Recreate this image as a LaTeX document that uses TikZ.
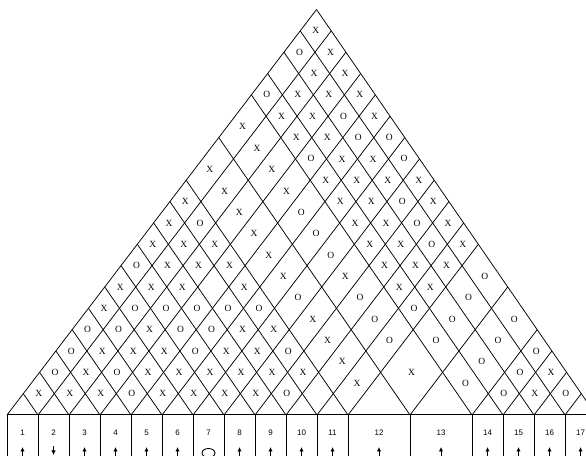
\documentclass[tikz,border=0pt]{standalone}
\usepackage{fontspec}
\setmainfont{Liberation Serif}
\setsansfont{Liberation Sans}
\usetikzlibrary{arrows.meta}

\tikzset{
  gridline/.style={line width=0.75bp},
  tableline/.style={line width=1bp},
  cellmark/.style={font=\fontsize{9.5}{9.5}\selectfont, inner sep=0pt},
  cellnum/.style={font=\sffamily\fontsize{8}{8}\selectfont, inner sep=0pt},
  spinarrow/.style={line width=0.9bp, -{Latex[length=4.5bp,width=4.5bp]}}
}

% middle of each base cell, in cell units (index 0 not used)
\def\cellmid{{0,0.5,1.5,2.5,3.5,4.5,5.5,6.5,7.5,8.5,9.5,10.5,12,14,15.5,16.5,17.5,18.5}}

\begin{document}
\begin{tikzpicture}[x=1bp,y=1bp]
    \useasboundingbox (0,0) rectangle (586,456);
    \clip (0,0) rectangle (586,456);

    % Lattice: two lines rise from every cell border
    \begin{scope}[shift={(7,41)}, x={(14.71bp,-21.34bp)}, y={(16.29bp,21.34bp)}]
        \foreach \u in {0,1,2,3,4,5,6,7,8,9,10,11,13,15,16,17,18,19} {
            \draw[gridline] (\u,\u) -- (\u,19);
            \draw[gridline] (0,\u) -- (\u,\u);
        }
        % X and O marks, cell (a,b)
        \foreach \a/\b/\m in {
            1/2/X, 1/3/O, 1/4/O, 1/5/O, 1/6/X, 1/7/X, 1/8/O, 1/9/X, 1/10/X, 1/11/X, 1/12/X, 1/13/X, 1/14/O, 1/16/O, 1/17/X,
            2/3/X, 2/4/X, 2/5/X, 2/6/O, 2/7/O, 2/8/X, 2/9/X, 2/10/X, 2/11/O, 2/12/X, 2/13/X, 2/14/X, 2/15/X, 2/16/X, 2/17/X,
            3/4/X, 3/5/O, 3/6/X, 3/7/X, 3/8/O, 3/9/X, 3/10/X, 3/11/X, 3/12/X, 3/13/X, 3/14/X, 3/15/X, 3/16/X, 3/17/X,
            4/5/O, 4/6/X, 4/7/X, 4/8/O, 4/9/O, 4/11/X, 4/12/X, 4/13/X, 4/14/O, 4/15/X, 4/16/O, 4/17/X,
            5/6/X, 5/7/X, 5/8/O, 5/9/O, 5/10/O, 5/11/X, 5/12/X, 5/13/O, 5/14/X, 5/15/X, 5/16/O, 5/17/X,
            6/7/X, 6/8/X, 6/9/X, 6/10/X, 6/11/O, 6/12/X, 6/13/O, 6/14/X, 6/15/X, 6/16/X, 6/17/O,
            7/8/X, 7/9/X, 7/10/X, 7/11/X, 7/12/O, 7/13/O, 7/14/X, 7/15/X, 7/16/X, 7/17/O,
            8/9/X, 8/10/X, 8/11/O, 8/12/X, 8/13/X, 8/14/X, 8/15/X, 8/16/O, 8/17/X,
            9/10/O, 9/11/X, 9/12/X, 9/13/O, 9/14/X, 9/15/X, 9/16/O, 9/17/X,
            10/12/X, 10/13/O, 10/14/X, 10/15/X, 10/16/O, 10/17/X,
            11/12/X, 11/13/O, 11/14/O, 11/15/X, 11/16/X, 11/17/X,
            12/13/X, 12/14/O, 12/15/O, 12/16/O, 12/17/O,
            13/14/O, 13/15/O, 13/16/O, 13/17/O,
            14/15/O, 14/16/O, 14/17/O,
            15/16/X, 15/17/X,
            16/17/O} {
            \pgfmathsetmacro\pp{\cellmid[\a]}
            \pgfmathsetmacro\qq{\cellmid[\b]}
            \node[cellmark] (m\a-\b) at (\pp,\qq) {\m};
        }
    \end{scope}

    % Row of numbered cells
    \draw[tableline] (7,41) -- (596,41);
    \foreach \u in {0,1,2,3,4,5,6,7,8,9,10,11,13,15,16,17,18,19} {
        \draw[tableline] ({7+31*\u},41) -- ({7+31*\u},-2);
    }
    \foreach \c in {1,...,17} {
        \pgfmathsetmacro\xc{7+31*\cellmid[\c]}
        \node[cellnum] (n\c) at (\xc,23) {\c};
    }

    % Arrows under the numbers
    \foreach \c in {1,3,4,5,6,8,9,10,11,12,13,14,15,16,17} {
        \draw[spinarrow] ([yshift=-26bp]n\c.center) -- ([yshift=-14bp]n\c.center);
    }
    \draw[spinarrow] ([yshift=-13bp]n2.center) -- ([yshift=-22bp]n2.center);
    \draw[line width=0.9bp] ([yshift=-20bp]n7.center) ellipse [x radius=6.5bp, y radius=4.5bp];
\end{tikzpicture}
\end{document}
